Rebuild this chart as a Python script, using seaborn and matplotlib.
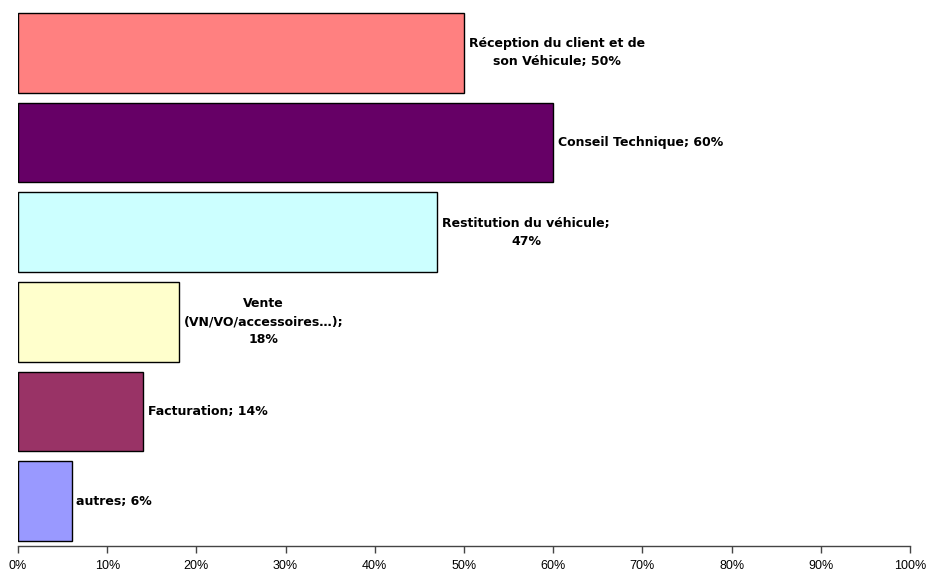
import matplotlib
matplotlib.use("Agg")
import matplotlib.pyplot as plt
import seaborn as sns
import pandas as pd
from matplotlib.ticker import PercentFormatter

categories = [
    "Réception du client et de\nson Véhicule",
    "Conseil Technique",
    "Restitution du véhicule;",
    "Vente\n(VN/VO/accessoires…);",
    "Facturation",
    "autres",
]
labels = [
    "Réception du client et de\nson Véhicule; 50%",
    "Conseil Technique; 60%",
    "Restitution du véhicule;\n47%",
    "Vente\n(VN/VO/accessoires…);\n18%",
    "Facturation; 14%",
    "autres; 6%",
]
values = [50, 60, 47, 18, 14, 6]
colors = ["#FF8080", "#660066", "#CCFFFF", "#FFFFCC", "#993366", "#9999FF"]
xticks = list(range(0, 101, 10))

df = pd.DataFrame({"cat": categories, "val": values})

sns.set_theme(style="white")
fig = plt.figure(figsize=(9.28, 5.74), dpi=100)
ax = fig.add_axes([18 / 928, 28 / 574, 892 / 928, 538 / 574])

sns.barplot(data=df, x="val", y="cat", hue="cat", palette=colors,
            saturation=1, orient="h", width=0.89, edgecolor="black",
            linewidth=1.0, legend=False, ax=ax)

for i, (v, lab) in enumerate(zip(values, labels)):
    ax.text(v + 0.55, i, lab, ha="left", va="center", multialignment="center",
            fontsize=9, fontweight="bold", family="DejaVu Sans", color="black",
            linespacing=1.5)

ax.set_xlim(0, 100)
ax.set_ylim(5.5, -0.5)
ax.set_xticks(xticks)
ax.xaxis.set_major_formatter(PercentFormatter(decimals=0))
ax.set_yticks([])
ax.set_xlabel("")
ax.set_ylabel("")
for s in ("left", "right", "top"):
    ax.spines[s].set_visible(False)
ax.spines["bottom"].set_color("#444444")
ax.spines["bottom"].set_linewidth(1.0)
ax.tick_params(axis="x", bottom=True, direction="out", length=5, width=1,
               color="#444444", labelsize=9, labelcolor="black", pad=5)
for t in ax.get_xticklabels():
    t.set_family("Liberation Sans")

fig.savefig("out.png", dpi=100, facecolor="white")
